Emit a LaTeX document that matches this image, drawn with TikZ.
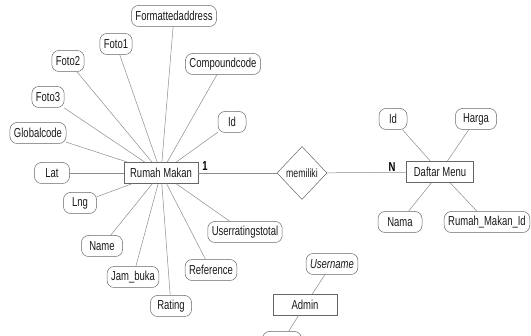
\documentclass[tikz,border=0pt]{standalone}
\usepackage{fontspec}
\setmainfont{Liberation Sans}[FakeStretch=0.73]
\usetikzlibrary{shapes.geometric}
\begin{document}
\begin{tikzpicture}[x=1pt,y=-1pt]
\tikzset{attr style/.style={shape=rectangle,rounded corners=7pt,draw=black!60,line width=0.5pt,
                            inner xsep=4pt,minimum width=28pt,minimum height=21pt,text=black!90,font=\fontsize{13}{14}\selectfont},
         entity style/.style={shape=rectangle,draw=black!60,line width=0.5pt,inner xsep=4pt,
                            minimum height=21pt,text=black!90,font=\fontsize{13}{14}\selectfont},
         rel style/.style={shape=diamond,draw=black!60,line width=0.5pt,inner sep=0pt,
                            minimum width=50pt,minimum height=53pt,text=black!90,font=\fontsize{12}{13}\selectfont},
         card style/.style={font=\bfseries\fontsize{13}{14}\selectfont}}
\useasboundingbox (0,0) rectangle (531,336);
\clip (0,0) rectangle (531,336);

% entitas
\node[entity style, minimum width=74pt] at (161,173)   (rm)     {Rumah Makan};
\node[entity style, minimum width=67pt] at (440,172)   (dm)     {Daftar Menu};
\node[entity style, minimum width=64pt] at (305,305)   (adm)    {Admin};
\node[rel style]                        at (302,173)   (mem)    {memiliki};

% atribut rumah makan
\node[attr style] at (174,16)    (fa)     {Formattedaddress};
\node[attr style] at (116,44)    (f1)     {Foto1};
\node[attr style] at (68,61)     (f2)     {Foto2};
\node[attr style] at (223,64)    (cc)     {Compoundcode};
\node[attr style] at (48,97)     (f3)     {Foto3};
\node[attr style] at (232,122)   (id1)    {Id};
\node[attr style] at (38,133)    (gc)     {Globalcode};
\node[attr style, minimum width=35pt] at (52,173)    (lat)    {Lat};
\node[attr style, minimum width=33pt] at (80,203)    (lng)    {Lng};
\node[attr style, minimum width=41pt] at (102,246)   (nm)     {Name};
\node[attr style] at (133,277)   (jb)     {Jam\_buka};
\node[attr style, minimum width=41pt] at (171,306)   (rt)     {Rating};
\node[attr style] at (211,270)   (ref)    {Reference};
\node[attr style] at (245,232)   (urt)    {Userratingstotal};

% atribut daftar menu
\node[attr style] at (393,119)   (id2)    {Id};
\node[attr style, minimum width=41pt] at (476,119)   (hg)     {Harga};
\node[attr style, minimum width=44pt] at (400,222)   (nma)    {Nama};
\node[attr style] at (487,222)   (rmid)   {Rumah\_Makan\_Id};

% atribut admin
\node[attr style, font=\itshape\fontsize{13}{14}\selectfont] at (332,264)   (usr)    {Username};
\node[attr style, minimum width=39pt] at (282,342)   (pw)     {};

% kardinalitas
\node[card style] at (205,166)   (c1)     {1};
\node[card style] at (392,167)   (cn)     {N};

\draw[line width=0.5pt, draw=black!45]
            (fa)    edge    (rm)
            (f1)    edge    (rm)
            (f2)    edge    (rm)
            (cc)    edge    (rm)
            (f3)    edge    (rm)
            (id1)   edge    (rm)
            (gc)    edge    (rm)
            (lat)   edge    (rm)
            (lng)   edge    (rm)
            (nm)    edge    (rm)
            (jb)    edge    (rm)
            (rt)    edge    (rm)
            (ref)   edge    (rm)
            (urt)   edge    (rm)
            (rm)    edge    (mem)
            (mem)   edge    (dm)
            (id2)   edge    (dm)
            (hg)    edge    (dm)
            (nma)   edge    (dm)
            (rmid)  edge    (dm)
            (usr)   edge    (adm)
            (adm)   edge    (pw)
;
\end{tikzpicture}
\end{document}
